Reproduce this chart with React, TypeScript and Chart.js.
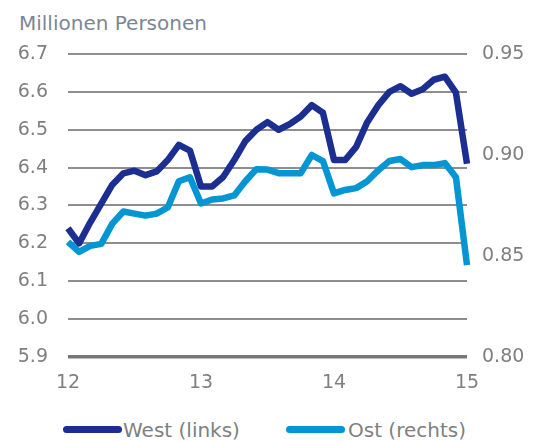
import React, { useEffect, useRef } from "react";
import { Chart, registerables } from "chart.js";

Chart.register(...registerables);

const yearLabels = ["12", "13", "14", "15"];
const months = Array.from({ length: 37 }, (_, i) => String(i));

const westValues = [
  6.24, 6.2, 6.255, 6.305, 6.355, 6.385, 6.392, 6.38, 6.39, 6.42, 6.46, 6.445,
  6.35, 6.35, 6.375, 6.42, 6.47, 6.5, 6.52, 6.5, 6.515, 6.535, 6.565, 6.545,
  6.42, 6.42, 6.455, 6.52, 6.565, 6.6, 6.615, 6.595, 6.607, 6.632, 6.64, 6.598,
  6.41,
];

const ostValues = [
  0.857, 0.852, 0.855, 0.856, 0.866, 0.872, 0.871, 0.87, 0.871, 0.874, 0.887,
  0.889, 0.876, 0.878, 0.8785, 0.88, 0.887, 0.893, 0.8928, 0.891, 0.891, 0.891,
  0.9, 0.897, 0.881, 0.8827, 0.8836, 0.887, 0.8925, 0.897, 0.898, 0.894, 0.895,
  0.895, 0.896, 0.889, 0.8455,
];

const seriesNames = ["West (links)", "Ost (rechts)"];
const WEST_COLOR = "#1c2f91";
const OST_COLOR = "#0495d3";
const TEXT_COLOR = "#7f7f7f";
const FONT = "'DejaVu Sans', sans-serif";

export default function App() {
  const canvasRef = useRef<HTMLCanvasElement | null>(null);

  useEffect(() => {
    const canvas = canvasRef.current;
    if (!canvas) return;
    const chart = new Chart(canvas, {
      type: "line",
      data: {
        labels: months,
        datasets: [
          {
            label: seriesNames[0],
            data: westValues,
            yAxisID: "y",
            borderColor: WEST_COLOR,
            backgroundColor: WEST_COLOR,
            borderWidth: 6.5,
            pointRadius: 0,
            tension: 0,
            borderJoinStyle: "round",
          },
          {
            label: seriesNames[1],
            data: ostValues,
            yAxisID: "y1",
            borderColor: OST_COLOR,
            backgroundColor: OST_COLOR,
            borderWidth: 6.5,
            pointRadius: 0,
            tension: 0,
            borderJoinStyle: "round",
          },
        ],
      },
      options: {
        responsive: false,
        animation: false,
        devicePixelRatio: 1,
        layout: { padding: { top: 54, left: 0, right: 0, bottom: 0 } },
        plugins: {
          legend: { display: false },
          tooltip: { enabled: false },
          title: { display: false },
        },
        scales: {
          x: {
            type: "category",
            offset: false,
            grid: { display: false, drawTicks: false },
            border: { display: false },
            ticks: {
              autoSkip: false,
              maxRotation: 0,
              padding: 15,
              color: TEXT_COLOR,
              font: { family: FONT, size: 19 },
              callback: (_v: any, idx: number) =>
                idx % 12 === 0 ? yearLabels[idx / 12] : "",
            },
            afterFit: (scale: any) => {
              scale.height = 43;
            },
          },
          y: {
            type: "linear",
            position: "left",
            min: 5.9,
            max: 6.7,
            grid: {
              drawTicks: false,
              color: (ctx: any) => (ctx.index === 0 ? "#777777" : "#8e8e8e"),
              lineWidth: (ctx: any) => (ctx.index === 0 ? 3.5 : 2),
            },
            border: { display: false },
            ticks: {
              stepSize: 0.1,
              padding: 20,
              color: TEXT_COLOR,
              font: { family: FONT, size: 19 },
              callback: (v: any) => Number(v).toFixed(1),
            },
            afterFit: (scale: any) => {
              scale.width = 68;
            },
          },
          y1: {
            type: "linear",
            position: "right",
            min: 0.8,
            max: 0.95,
            grid: { display: false, drawTicks: false },
            border: { display: false },
            ticks: {
              stepSize: 0.05,
              padding: 15,
              color: TEXT_COLOR,
              font: { family: FONT, size: 19 },
              callback: (v: any) => Number(v).toFixed(2),
            },
            afterFit: (scale: any) => {
              scale.width = 74;
            },
          },
        },
      },
    });
    return () => chart.destroy();
  }, []);

  const legendText: React.CSSProperties = {
    position: "absolute",
    top: 420,
    fontFamily: FONT,
    fontSize: 20,
    lineHeight: "20px",
    color: TEXT_COLOR,
    whiteSpace: "nowrap",
  };
  const legendLine = (left: number, color: string): React.CSSProperties => ({
    position: "absolute",
    left,
    top: 426,
    width: 59,
    height: 7,
    borderRadius: 3.5,
    background: color,
  });

  return (
    <div
      style={{
        position: "absolute",
        left: 0,
        top: 0,
        width: 541,
        height: 441,
        background: "#ffffff",
        overflow: "hidden",
      }}
    >
      <div
        style={{
          position: "absolute",
          left: 19,
          top: 13,
          fontFamily: FONT,
          fontSize: 20,
          lineHeight: "20px",
          color: "#7d8594",
          whiteSpace: "nowrap",
        }}
      >
        Millionen Personen
      </div>
      <canvas
        ref={canvasRef}
        width={541}
        height={400}
        style={{ position: "absolute", left: 0, top: 0, width: 541, height: 400 }}
      />
      <div style={legendLine(63, WEST_COLOR)} />
      <div style={{ ...legendText, left: 123 }}>{seriesNames[0]}</div>
      <div style={legendLine(286, OST_COLOR)} />
      <div style={{ ...legendText, left: 348 }}>{seriesNames[1]}</div>
    </div>
  );
}
